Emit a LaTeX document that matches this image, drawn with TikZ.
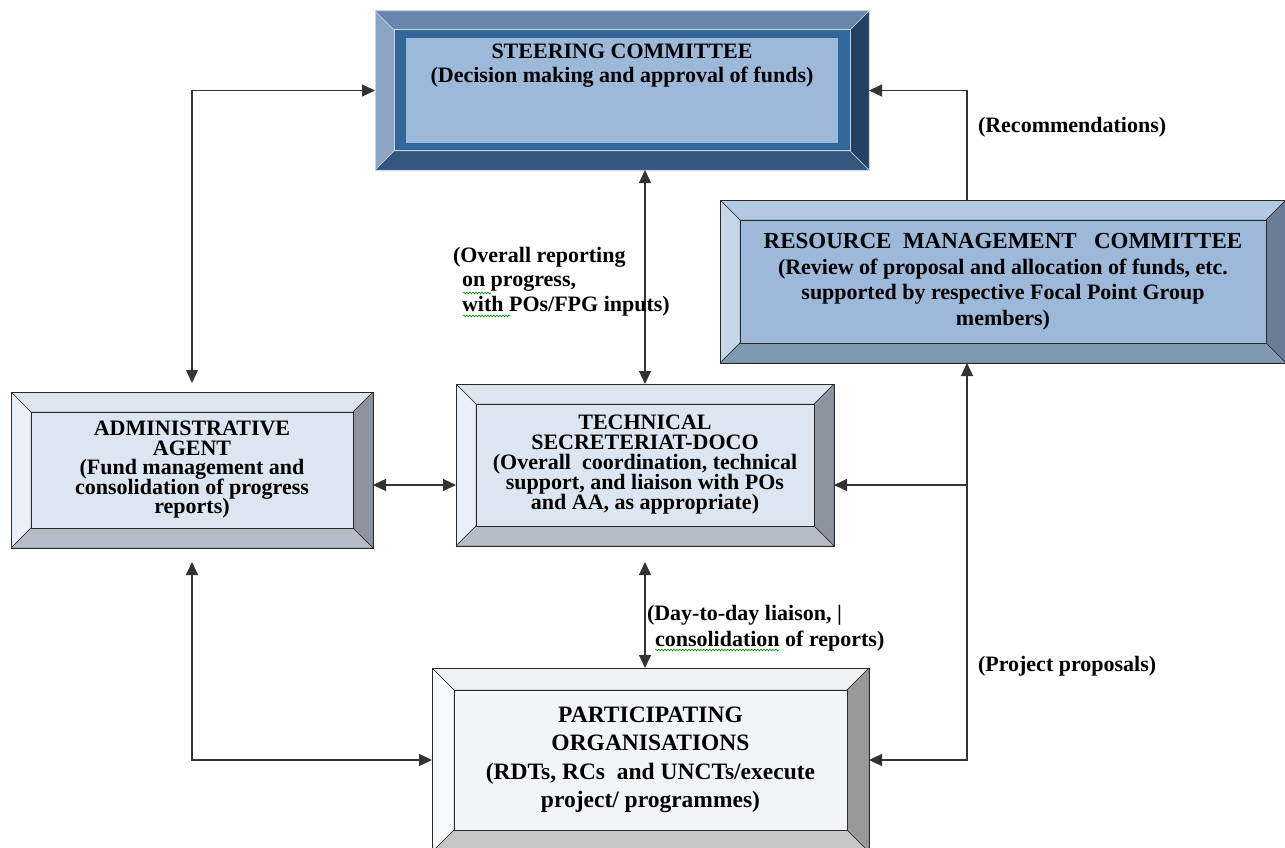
\documentclass[tikz,border=0pt]{standalone}
\usepackage{fontspec}
\setmainfont{Liberation Serif}[BoldFont={Liberation Serif Bold}]
\usetikzlibrary{arrows.meta,positioning,decorations.pathmorphing}
\AtBeginDocument{\lineskiplimit=-20pt\relax}

\definecolor{scTop}{HTML}{6886AD}
\definecolor{scLeft}{HTML}{8CA4C4}
\definecolor{scRight}{HTML}{234162}
\definecolor{scBot}{HTML}{34567E}
\definecolor{scBand}{HTML}{336699}
\definecolor{scIn}{HTML}{9DB9DA}
\definecolor{scEdge}{HTML}{C5D3E3}
\definecolor{rmTop}{HTML}{B3C8E2}
\definecolor{rmLeft}{HTML}{C5D6EA}
\definecolor{rmRight}{HTML}{6A7D96}
\definecolor{rmBot}{HTML}{8198B3}
\definecolor{blTop}{HTML}{DDE6F0}
\definecolor{blLeft}{HTML}{EAF0F7}
\definecolor{blRight}{HTML}{8C959F}
\definecolor{blBot}{HTML}{B5BDC7}
\definecolor{blIn}{HTML}{DCE6F2}
\definecolor{poTop}{HTML}{EFF1F4}
\definecolor{poLeft}{HTML}{F8F9FB}
\definecolor{poRight}{HTML}{999999}
\definecolor{poBot}{HTML}{C6C6C6}
\definecolor{poIn}{HTML}{F2F4F7}
\definecolor{edge}{HTML}{2A2A2A}

\tikzset{
  % width, top, left, right, bottom, inner, edge
  bevel/.style n args={7}{rectangle, inner sep=0pt, outer sep=0pt, align=center,
    draw=#7, line width=1pt,
    path picture={
      \coordinate (nw) at (path picture bounding box.north west);
      \coordinate (ne) at (path picture bounding box.north east);
      \coordinate (sw) at (path picture bounding box.south west);
      \coordinate (se) at (path picture bounding box.south east);
      \filldraw[fill=#2, draw=#7, line width=0.5pt] (nw) -- (ne) -- ([shift={(-#1,-#1)}]ne) -- ([shift={(#1,-#1)}]nw) -- cycle;
      \filldraw[fill=#3, draw=#7, line width=0.5pt] (nw) -- (sw) -- ([shift={(#1,#1)}]sw) -- ([shift={(#1,-#1)}]nw) -- cycle;
      \filldraw[fill=#4, draw=#7, line width=0.5pt] (ne) -- (se) -- ([shift={(-#1,#1)}]se) -- ([shift={(-#1,-#1)}]ne) -- cycle;
      \filldraw[fill=#5, draw=#7, line width=0.5pt] (sw) -- (se) -- ([shift={(-#1,#1)}]se) -- ([shift={(#1,#1)}]sw) -- cycle;
      \filldraw[fill=#6, draw=#7, line width=1pt] ([shift={(#1,-#1)}]nw) rectangle ([shift={(-#1,#1)}]se);
    }},
  boxtext/.style={font=\fontsize{22}{#1}\selectfont\bfseries},
  boxtext/.default=19.5,
  bigtext/.style={font=\fontsize{23.5}{#1}\selectfont\bfseries},
  note/.style={inner sep=0pt, outer sep=0pt, align=left,
    font=\fontsize{22}{#1}\selectfont\bfseries},
  note/.default=24.5,
  conn/.style={draw=black!80, line width=1.3pt},
  squiggle/.style={draw=green!55!black, line width=0.6pt,
    decorate, decoration={snake, amplitude=0.9pt, segment length=3pt}}
}

\begin{document}
\begin{tikzpicture}[x=1pt, y=-1pt, >={Triangle[length=13pt,width=12pt]}]
  \useasboundingbox (0,0) rectangle (1285,848);

  % Boxes:
  \node[bevel={19pt}{scTop}{scLeft}{scRight}{scBot}{scBand}{scEdge},
        minimum width=494pt, minimum height=159pt] (sc) at (622,90.5) {};
  \fill[scIn] ([shift={(31pt,-27pt)}]sc.north west) rectangle ([shift={(-31pt,27pt)}]sc.south east);
  \node[boxtext=24, inner sep=0pt, align=center, below=33pt of sc.north] (sclabel)
    {STEERING COMMITTEE\\(Decision making and approval of funds)};

  \node[bevel={20pt}{rmTop}{rmLeft}{rmRight}{rmBot}{scIn}{edge},
        minimum width=566pt, minimum height=163pt, boxtext=25.5] (rmc) at (1003,281.5)
    {{\fontsize{23}{25.5}\selectfont RESOURCE\ \ MANAGEMENT\ \ \ COMMITTEE}\\(Review of proposal and allocation of funds, etc.\\supported by respective Focal Point Group\\members)};

  \node[bevel={20pt}{blTop}{blLeft}{blRight}{blBot}{blIn}{edge},
        minimum width=362pt, minimum height=156pt, boxtext=19.5] (aa) at (192,470)
    {ADMINISTRATIVE\\AGENT\\(Fund management and\\consolidation of progress\\reports)};

  \node[bevel={20pt}{blTop}{blLeft}{blRight}{blBot}{blIn}{edge},
        minimum width=378pt, minimum height=162pt, boxtext=20] (ts) at (645,465)
    {TECHNICAL\\SECRETERIAT-DOCO\\(Overall\ \ coordination, technical\\support, and liaison with POs\\and AA, as appropriate)};

  \node[bevel={22pt}{poTop}{poLeft}{poRight}{poBot}{poIn}{edge},
        minimum width=437pt, minimum height=184pt, bigtext=28.5] (po) at (650.5,760)
    {PARTICIPATING\\ORGANISATIONS\\(RDTs, RCs\ \ and UNCTs/execute\\project/ programmes)};

  % Arrows:
  \coordinate (spine) at (967,0);
  \coordinate (aain) at ([yshift=-15pt]aa.east);
  \coordinate (tsin) at ([yshift=-20pt]ts.east);
  \draw[conn, <->, shorten <=9pt] (aa.north) |- (sc.west);
  \draw[conn, <->] (ts.north) -- (ts.north |- sc.south);
  \draw[conn, <->] (aain) -- (aain -| ts.west);
  \draw[conn, <->, shorten <=16pt] (ts.south) -- (ts.south |- po.north);
  \draw[conn, <->, shorten <=14pt] (aa.south) |- (po.west);
  \draw[conn, ->] (spine |- rmc.north) |- (sc.east);
  \draw[conn, <->] (po.east) -| (spine |- rmc.south);
  \draw[conn, ->] (tsin -| spine) -- (tsin);

  % Labels:
  \node[note, anchor=north west] (reporting) at (453,247)
    {(Overall reporting\\\hspace{9pt}on progress,\\\hspace{9pt}with POs/FPG inputs)};
  \node[note, anchor=base west] (recommend) at (978,133) {(Recommendations)};
  \node[note=26, anchor=north west] (daytoday) at (647,605)
    {(Day-to-day liaison, \textbf{|}\\\hspace{8pt}consolidation of reports)};
  \node[note, anchor=base west] (proposals) at (978,671) {(Project proposals)};
  \draw[squiggle] (463,293) -- (491,293);
  \draw[squiggle] (463,316) -- (510,316);
  \draw[squiggle] (655,650) -- (779,650);
\end{tikzpicture}
\end{document}
